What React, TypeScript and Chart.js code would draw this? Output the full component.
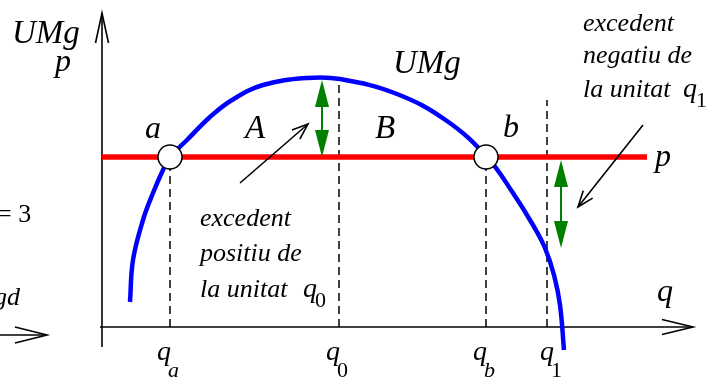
import React, { useEffect, useRef } from "react";
import { Chart, registerables } from "chart.js";

Chart.register(...registerables);

// Marginal utility curve UMg(q)
const curveQ = [2.8, 3.1, 4.1, 5.1, 6.1, 6.8, 8.5, 10.8, 13.0, 16.1, 20.5, 23.8, 29.5, 34.5, 38.5, 41.1, 43.1, 44.3, 45.2, 45.8, 46.2];
const curveU = [2.5, 6.7, 10.7, 13.4, 15.7, 17.0, 18.7, 21.0, 22.7, 24.2, 24.9, 24.8, 23.3, 20.6, 17.0, 13.4, 10.2, 7.9, 5.2, 2.2, -2.3];

const price = 17;
const priceEnd = 54.5;

const qNames = ["qa", "q0", "qb", "q1"];
const qValues = [6.8, 23.7, 38.4, 44.5];
const qTops = [17, 24.4, 17, 22.7];

const eqQ = [6.8, 38.4];

const xAxisRange = [-0.2, 59.1];
const yAxisRange = [-2.0, 31.4];

const greenQ = [22.0, 45.9];
const greenFrom = [24.7, 16.7];
const greenTo = [17.0, 7.9];

const pointerFrom = [[13.8, 14.4], [54.1, 20.2]];
const pointerTo = [[20.6, 20.3], [47.6, 12.0]];

type Txt = { t: string; q: number; u: number; size: number; italic?: boolean };
const texts: Txt[] = [
  { t: "UMg", q: -9.0, u: 28.4, size: 33 },
  { t: "p", q: -4.7, u: 25.6, size: 32 },
  { t: "UMg", q: 29.1, u: 25.4, size: 33 },
  { t: "a", q: 4.3, u: 18.9, size: 32 },
  { t: "A", q: 14.3, u: 18.9, size: 33 },
  { t: "B", q: 27.3, u: 18.9, size: 33 },
  { t: "b", q: 40.1, u: 19.0, size: 32 },
  { t: "p", q: 55.3, u: 16.1, size: 32 },
  { t: "q", q: 55.5, u: 2.6, size: 32 },
  { t: "q", q: 5.5, u: -3.3, size: 28 },
  { t: "a", q: 6.6, u: -5.0, size: 22 },
  { t: "q", q: 22.4, u: -3.3, size: 28 },
  { t: "0", q: 23.5, u: -5.0, size: 22, italic: false },
  { t: "q", q: 37.1, u: -3.3, size: 28 },
  { t: "b", q: 38.2, u: -5.0, size: 22 },
  { t: "q", q: 43.8, u: -3.3, size: 28 },
  { t: "1", q: 44.9, u: -5.0, size: 22, italic: false },
  { t: "excedent", q: 9.8, u: 10.1, size: 26 },
  { t: "positiu de", q: 9.8, u: 6.6, size: 26 },
  { t: "la unitat", q: 9.8, u: 3.0, size: 26 },
  { t: "q", q: 20.1, u: 3.0, size: 28 },
  { t: "0", q: 21.3, u: 2.0, size: 22, italic: false },
  { t: "excedent", q: 48.1, u: 29.6, size: 26 },
  { t: "negatiu de", q: 48.1, u: 26.4, size: 26 },
  { t: "la unitat", q: 48.1, u: 23.0, size: 26 },
  { t: "q", q: 58.1, u: 23.0, size: 28 },
  { t: "1", q: 59.4, u: 22.0, size: 22, italic: false },
  { t: "= 3", q: -10.5, u: 10.5, size: 26, italic: false },
  { t: "gd", q: -10.8, u: 2.2, size: 26 },
];

const leftArrow = [[-10.2, -0.8], [-5.5, -0.8]];

const FONT = '"Liberation Serif", "Times New Roman", serif';

export default function App() {
  const ref = useRef<HTMLCanvasElement | null>(null);
  useEffect(() => {
    document.body.style.margin = "0";
    const canvas = ref.current!;
    const datasets: any[] = [];
    datasets.push({
      type: "scatter",
      data: eqQ.map((q) => ({ x: q, y: price })),
      pointRadius: 12,
      pointBackgroundColor: "#ffffff",
      pointBorderColor: "#000000",
      pointBorderWidth: 1.5,
      showLine: false,
      order: 0,
    });
    datasets.push({
      type: "line",
      data: [{ x: 0, y: price }, { x: priceEnd, y: price }],
      borderColor: "#ff0000",
      borderWidth: 5.5,
      pointRadius: 0,
      order: 1,
    });
    datasets.push({
      type: "line",
      data: curveQ.map((q, i) => ({ x: q, y: curveU[i] })),
      borderColor: "#0000ff",
      borderWidth: 4.5,
      pointRadius: 0,
      tension: 0.4,
      order: 2,
    });
    qValues.forEach((q, i) => {
      datasets.push({
        type: "line",
        label: qNames[i],
        data: [{ x: q, y: 0 }, { x: q, y: qTops[i] }],
        borderColor: "#000000",
        borderWidth: 1.5,
        borderDash: [8, 5],
        pointRadius: 0,
        order: 3,
      });
    });

    const openArrow = (ctx: CanvasRenderingContext2D, x0: number, y0: number, x1: number, y1: number, len: number, half: number) => {
      ctx.beginPath();
      ctx.moveTo(x0, y0);
      ctx.lineTo(x1, y1);
      ctx.stroke();
      const a = Math.atan2(y1 - y0, x1 - x0);
      const ux = Math.cos(a), uy = Math.sin(a);
      const bx = x1 - ux * len, by = y1 - uy * len;
      ctx.beginPath();
      ctx.moveTo(bx - uy * half, by + ux * half);
      ctx.lineTo(x1, y1);
      ctx.lineTo(bx + uy * half, by - ux * half);
      ctx.stroke();
    };

    const axesPlugin = {
      id: "axesDraw",
      beforeDatasetsDraw(chart: any) {
        const ctx = chart.ctx as CanvasRenderingContext2D;
        const xs = chart.scales.x, ys = chart.scales.y;
        ctx.save();
        ctx.strokeStyle = "#000";
        ctx.lineWidth = 1.6;
        openArrow(ctx, xs.getPixelForValue(xAxisRange[0]), ys.getPixelForValue(0), xs.getPixelForValue(xAxisRange[1]), ys.getPixelForValue(0), 31, 7.5);
        openArrow(ctx, xs.getPixelForValue(0), ys.getPixelForValue(yAxisRange[0]), xs.getPixelForValue(0), ys.getPixelForValue(yAxisRange[1]), 30, 6.5);
        openArrow(ctx, xs.getPixelForValue(leftArrow[0][0]), ys.getPixelForValue(leftArrow[0][1]), xs.getPixelForValue(leftArrow[1][0]), ys.getPixelForValue(leftArrow[1][1]), 32, 8);
        ctx.restore();
      },
      afterDatasetsDraw(chart: any) {
        const ctx = chart.ctx as CanvasRenderingContext2D;
        const xs = chart.scales.x, ys = chart.scales.y;
        ctx.save();
        greenQ.forEach((q, i) => {
          const x = xs.getPixelForValue(q);
          const y0 = ys.getPixelForValue(greenFrom[i]);
          const y1 = ys.getPixelForValue(greenTo[i]);
          const L = 27, H = 7;
          ctx.strokeStyle = "#008000";
          ctx.fillStyle = "#008000";
          ctx.lineWidth = 2;
          ctx.beginPath();
          ctx.moveTo(x, y0 + L - 2);
          ctx.lineTo(x, y1 - L + 2);
          ctx.stroke();
          ctx.beginPath();
          ctx.moveTo(x, y0);
          ctx.lineTo(x - H, y0 + L);
          ctx.lineTo(x + H, y0 + L);
          ctx.closePath();
          ctx.fill();
          ctx.beginPath();
          ctx.moveTo(x, y1);
          ctx.lineTo(x - H, y1 - L);
          ctx.lineTo(x + H, y1 - L);
          ctx.closePath();
          ctx.fill();
        });
        ctx.strokeStyle = "#000";
        ctx.lineWidth = 1.6;
        pointerFrom.forEach((f, i) => {
          const t = pointerTo[i];
          openArrow(ctx, xs.getPixelForValue(f[0]), ys.getPixelForValue(f[1]), xs.getPixelForValue(t[0]), ys.getPixelForValue(t[1]), 16, 6);
        });
        ctx.fillStyle = "#000";
        ctx.textAlign = "left";
        ctx.textBaseline = "alphabetic";
        texts.forEach((tx) => {
          ctx.font = tx.italic === false ? `${tx.size}px ${FONT}` : `italic ${tx.size}px ${FONT}`;
          ctx.fillText(tx.t, xs.getPixelForValue(tx.q), ys.getPixelForValue(tx.u));
        });
        ctx.restore();
      },
    };

    const chart = new Chart(canvas, {
      type: "line",
      data: { datasets },
      options: {
        animation: false,
        responsive: false,
        devicePixelRatio: 1,
        layout: { padding: 0, autoPadding: false },
        plugins: { legend: { display: false }, tooltip: { enabled: false } },
        events: [],
        scales: {
          x: { type: "linear", min: -10.2, max: 60.8, display: false },
          y: { type: "linear", min: -5.1, max: 32.7, display: false },
        },
      },
      plugins: [axesPlugin],
    } as any);
    return () => chart.destroy();
  }, []);
  return (
    <div style={{ position: "absolute", left: 0, top: 0, width: 710, height: 378, background: "#fff" }}>
      <canvas ref={ref} width={710} height={378} style={{ position: "absolute", left: 0, top: 0 }} />
    </div>
  );
}
